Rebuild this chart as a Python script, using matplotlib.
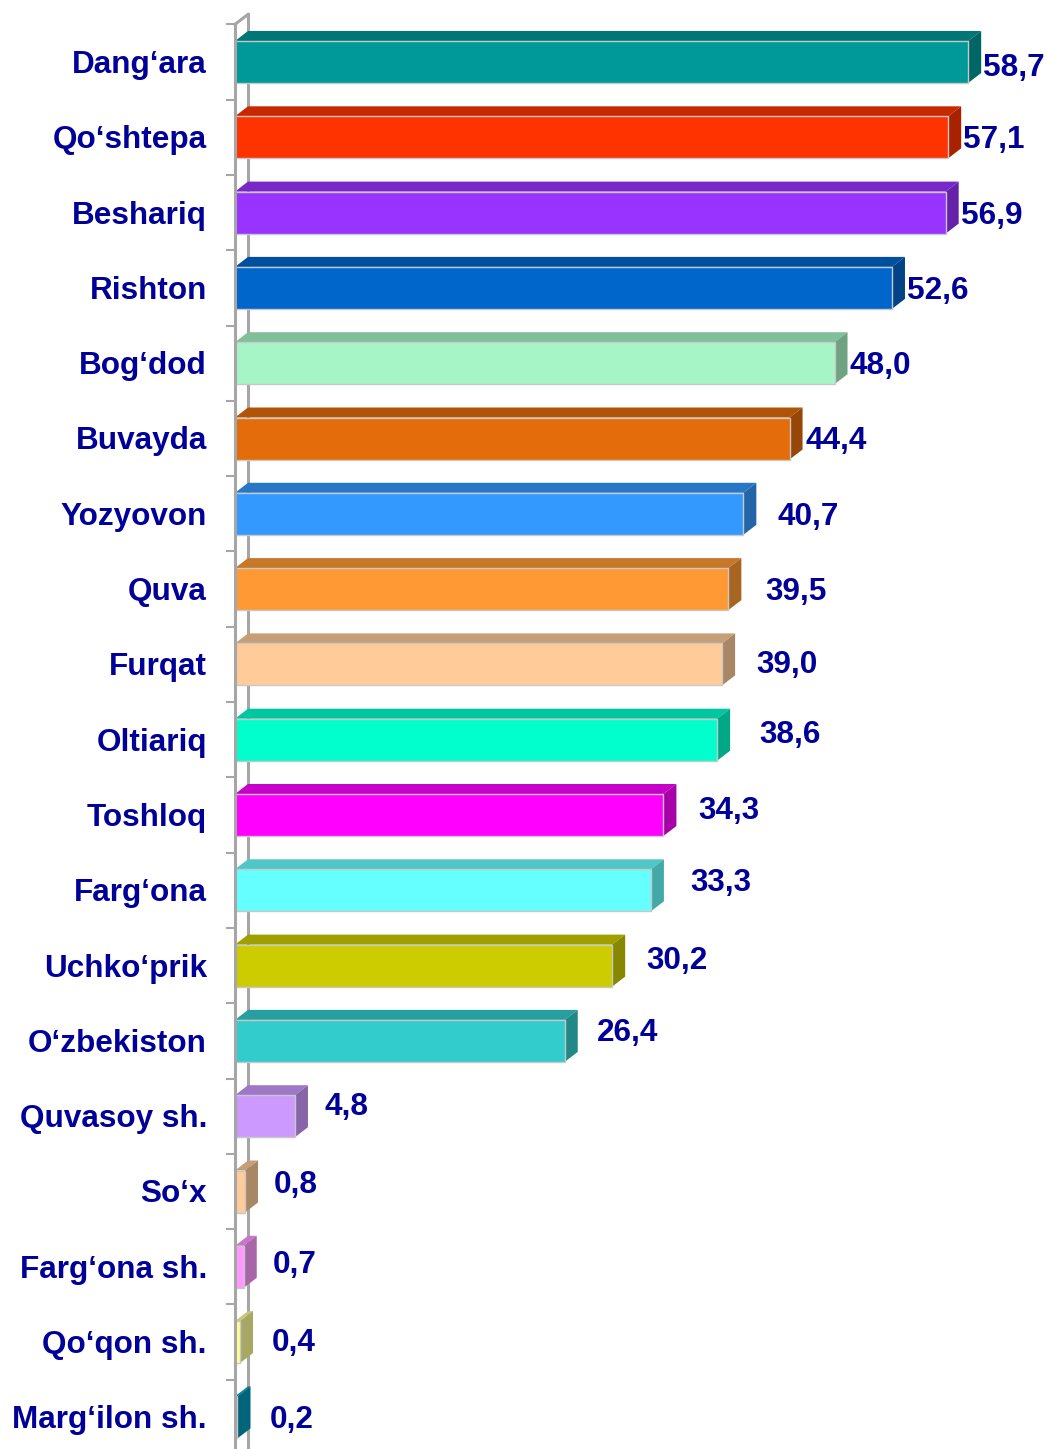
import matplotlib
matplotlib.use("Agg")
import matplotlib.pyplot as plt
from matplotlib.patches import Polygon
import matplotlib.colors as mcolors

categories = ["Dang‘ara", "Qo‘shtepa", "Beshariq", "Rishton", "Bog‘dod", "Buvayda",
              "Yozyovon", "Quva", "Furqat", "Oltiariq", "Toshloq", "Farg‘ona",
              "Uchko‘prik", "O‘zbekiston", "Quvasoy sh.", "So‘x", "Farg‘ona sh.",
              "Qo‘qon sh.", "Marg‘ilon sh."]
values = [58.7, 57.1, 56.9, 52.6, 48.0, 44.4, 40.7, 39.5, 39.0, 38.6, 34.3, 33.3,
          30.2, 26.4, 4.8, 0.8, 0.7, 0.4, 0.2]
value_labels = ["58,7", "57,1", "56,9", "52,6", "48,0", "44,4", "40,7", "39,5", "39,0",
                "38,6", "34,3", "33,3", "30,2", "26,4", "4,8", "0,8", "0,7", "0,4", "0,2"]
colors = ["#009999", "#FF3300", "#9933FF", "#0066CC", "#A6F5C6", "#E46C0A", "#3399FF",
          "#FF9933", "#FFCC99", "#00FFCC", "#FF00FF", "#66FFFF", "#CCCC00", "#33CCCC",
          "#CC99FF", "#FFCC99", "#FF99FF", "#FFFF99", "#0099BB"]
# label offsets in pixels (dx, dy downward)
label_dx = [0, 0, 0, 0, 0, 1, 19, 22, 19, 27, 20, 24, 19, 17, 15, 14, 14, 17, 17]
label_dy = [3, 0, 0, 0, 0, 0, 0, 0, -2, -8, -7, -10, -8, -11, -12, -10, -5, -2, 0]

W, H, DPI = 1047, 1449, 100
PT = 72 / DPI  # points per pixel
fig = plt.figure(figsize=(W / DPI, H / DPI), dpi=DPI)
x0_px = 235
px_per_unit = 12.49
y0_px = 62
step_px = 75.3
ax = fig.add_axes([x0_px / W, 0, 1 - x0_px / W, 1])
ax.set_xlim(0, (W - x0_px) / px_per_unit)
ax.set_ylim((H - y0_px) / step_px, -y0_px / step_px)
ax.axis("off")

ddx = 13 / px_per_unit
ddy = -10 / step_px
h = 42 / step_px
txtcol = "#000099"
font = dict(family="Liberation Sans", weight="bold", size=22.7)
text_shift = 3  # px downward


def shade(c, f):
    r, g, b = mcolors.to_rgb(c)
    return (r * f, g * f, b * f)


n = len(categories)
ypos = list(range(n))
ax.barh(ypos, values, height=h, color=colors, edgecolor="#C8C8C8", linewidth=1, zorder=3)
for i, (v, c) in enumerate(zip(values, colors)):
    yt = i - h / 2
    yb = i + h / 2
    top = Polygon([(0, yt), (v, yt), (v + ddx, yt + ddy), (ddx, yt + ddy)],
                  closed=True, facecolor=shade(c, 0.78), edgecolor="none", zorder=2.5)
    side = Polygon([(v, yt), (v, yb), (v + ddx, yb + ddy), (v + ddx, yt + ddy)],
                   closed=True, facecolor=shade(c, 0.66), edgecolor="none", zorder=2.5)
    ax.add_patch(top)
    ax.add_patch(side)
    ax.annotate(value_labels[i], xy=(v + ddx, i),
                xytext=((2 + label_dx[i]) * PT, -(label_dy[i] + text_shift) * PT),
                textcoords="offset points", ha="left", va="center", color=txtcol, **font)
    ax.annotate(categories[i], xy=(0, i), xytext=(-28 * PT, -text_shift * PT),
                textcoords="offset points", ha="right", va="center", color=txtcol,
                annotation_clip=False, **font)

# axis walls
ybot = (H - y0_px) / step_px + 1
axcol = "#A6A6A6"
ax.plot([0, 0], [-0.5, ybot], color=axcol, lw=2.2, zorder=4, clip_on=False)
ax.plot([ddx, ddx], [-0.5 + ddy, ybot], color=axcol, lw=2.2, zorder=1, clip_on=False)
ax.plot([0, ddx], [-0.5, -0.5 + ddy], color=axcol, lw=2.2, zorder=1, clip_on=False)
for k in range(n + 1):
    ax.plot([-8 / px_per_unit, 0], [k - 0.5, k - 0.5], color=axcol, lw=1.5, zorder=4, clip_on=False)

fig.savefig("out.png", dpi=DPI, facecolor="white")
